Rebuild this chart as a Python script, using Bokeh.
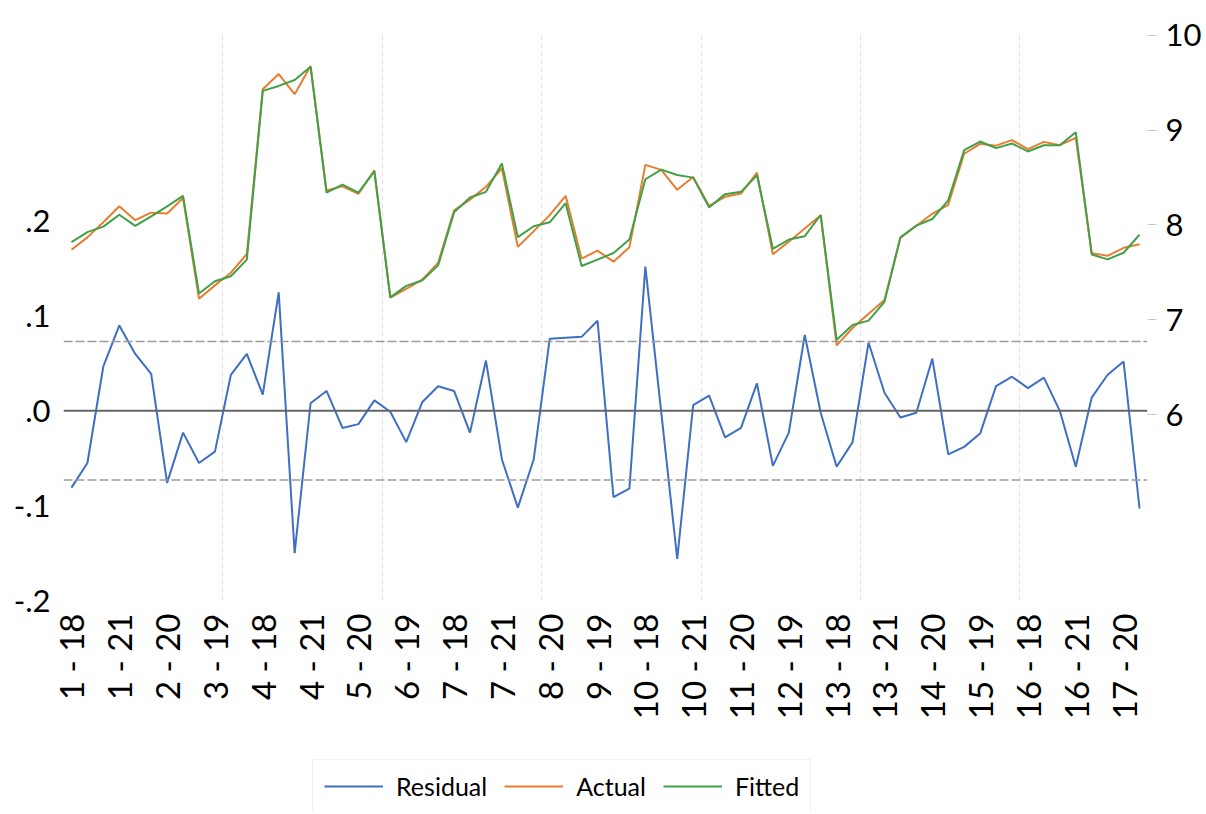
import numpy as np
from bokeh.plotting import figure
from bokeh.layouts import column
from bokeh.models import Range1d, LinearAxis, FixedTicker, Span, Legend, LegendItem
from bokeh.embed import file_html
from bokeh.resources import INLINE

# ---- data -----------------------------------------------------------------
cross_sections = list(range(1, 18))
years = [18, 19, 20, 21]
obs_labels = [f"{c} - {y}" for c in cross_sections for y in years]

residual = [-0.081, -0.055, 0.047, 0.090, 0.060, 0.039, -0.076, -0.023,
            -0.055, -0.043, 0.038, 0.060, 0.017, 0.125, -0.150, 0.008,
            0.021, -0.018, -0.014, 0.011, -0.001, -0.033, 0.009, 0.026,
            0.021, -0.023, 0.053, -0.051, -0.102, -0.051, 0.076, 0.077,
            0.078, 0.095, -0.091, -0.082, 0.152, -0.002, -0.156, 0.006,
            0.016, -0.028, -0.018, 0.029, -0.058, -0.023, 0.080, -0.002,
            -0.059, -0.033, 0.072, 0.019, -0.007, -0.002, 0.055, -0.046,
            -0.038, -0.024, 0.026, 0.036, 0.024, 0.035, 0.000, -0.059,
            0.014, 0.038, 0.052, -0.103]

actual = [7.738, 7.869, 8.029, 8.198, 8.050, 8.130, 8.120, 8.284,
          7.222, 7.363, 7.497, 7.694, 9.431, 9.591, 9.379, 9.676,
          8.363, 8.408, 8.328, 8.576, 7.235, 7.325, 7.423, 7.600,
          8.154, 8.267, 8.402, 8.598, 7.769, 7.935, 8.104, 8.307,
          7.645, 7.729, 7.613, 7.764, 8.634, 8.581, 8.371, 8.505,
          8.201, 8.297, 8.331, 8.553, 7.691, 7.823, 7.962, 8.103,
          6.730, 6.913, 7.063, 7.209, 7.864, 7.991, 8.118, 8.213,
          8.751, 8.856, 8.836, 8.895, 8.799, 8.876, 8.841, 8.918,
          7.703, 7.675, 7.759, 7.796]

fitted = [7.819, 7.924, 7.982, 8.108, 7.990, 8.091, 8.196, 8.307,
          7.277, 7.406, 7.459, 7.634, 9.414, 9.466, 9.529, 9.668,
          8.342, 8.426, 8.342, 8.565, 7.236, 7.358, 7.414, 7.574,
          8.133, 8.290, 8.349, 8.649, 7.871, 7.986, 8.028, 8.230,
          7.567, 7.634, 7.704, 7.846, 8.482, 8.583, 8.527, 8.499,
          8.185, 8.325, 8.349, 8.524, 7.749, 7.846, 7.882, 8.105,
          6.789, 6.946, 6.991, 7.190, 7.871, 7.993, 8.063, 8.259,
          8.789, 8.880, 8.810, 8.859, 8.775, 8.841, 8.841, 8.977,
          7.689, 7.637, 7.707, 7.899]

resid_sd = 0.073
left_ticks = [-0.2, -0.1, 0.0, 0.1, 0.2]
left_tick_labels = ["-.2", "-.1", ".0", ".1", ".2"]
right_ticks = [6, 7, 8, 9, 10]
series_names = ["Residual", "Actual", "Fitted"]
series_colors = ["#3F6FC0", "#E87D30", "#41A048"]
label_every = 3
grid_every = 10

# ---- main figure ------------------------------------------------------------
FONT = "Lato"
n = len(residual)
x = list(range(n))

p = figure(width=1204, height=722, output_backend="svg", toolbar_location=None,
           x_range=Range1d(-0.5, n - 0.5), y_range=Range1d(-0.2, 0.4),
           min_border_left=63, min_border_right=55, min_border_top=31,
           min_border_bottom=118)
p.outline_line_color = None
p.background_fill_color = "white"
p.border_fill_color = "white"
p.extra_y_ranges = {"lvl": Range1d(4.04, 10.04)}

# grid
p.ygrid.visible = False
p.xgrid.ticker = FixedTicker(ticks=[k - 0.5 for k in range(grid_every, n, grid_every)])
p.xgrid.grid_line_color = "#e2e2e2"
p.xgrid.grid_line_dash = "5 3"
p.xgrid.grid_line_width = 1

# x axis
xa = p.xaxis[0]
xa.ticker = FixedTicker(ticks=list(range(0, n, label_every)))
xa.major_label_overrides = {i: obs_labels[i] for i in range(0, n, label_every)}
xa.major_label_orientation = np.pi / 2
xa.axis_line_color = None
xa.major_tick_line_color = None
xa.minor_tick_line_color = None
xa.major_tick_out = 0
xa.major_tick_in = 0
xa.major_label_standoff = 13
xa.major_label_text_font = FONT
xa.major_label_text_font_size = "33px"
xa.major_label_text_color = "black"

# left axis
ya = p.yaxis[0]
ya.ticker = FixedTicker(ticks=left_ticks)
ya.major_label_overrides = {t: s for t, s in zip(left_ticks, left_tick_labels)}
ya.axis_line_color = None
ya.major_tick_line_color = None
ya.minor_tick_line_color = None
ya.major_tick_out = 0
ya.major_tick_in = 0
ya.major_label_standoff = 13
ya.major_label_text_font = FONT
ya.major_label_text_font_size = "31px"
ya.major_label_text_color = "black"

# right axis
ra = LinearAxis(y_range_name="lvl", ticker=FixedTicker(ticks=right_ticks))
ra.axis_line_color = None
ra.major_tick_line_color = "#c8c8c8"
ra.major_tick_out = 9
ra.major_tick_in = 0
ra.minor_tick_line_color = None
ra.major_label_standoff = 9
ra.major_label_text_font = FONT
ra.major_label_text_font_size = "31px"
ra.major_label_text_color = "black"
p.add_layout(ra, "right")

# reference lines
p.add_layout(Span(location=0, dimension="width", line_color="#666666", line_width=2))
for s in (resid_sd, -resid_sd):
    p.add_layout(Span(location=s, dimension="width", line_color="#9c9c9c",
                      line_width=1.5, line_dash="9 3"))

# series
p.line(x, residual, line_color=series_colors[0], line_width=2)
p.line(x, actual, y_range_name="lvl", line_color=series_colors[1], line_width=2)
p.line(x, fitted, y_range_name="lvl", line_color=series_colors[2], line_width=2)

# ---- legend strip -------------------------------------------------------------
lg = figure(width=1204, height=90, output_backend="svg", toolbar_location=None,
            x_axis_type=None, y_axis_type=None,
            x_range=Range1d(0, 1), y_range=Range1d(0, 1),
            min_border_left=0, min_border_right=0, min_border_top=0,
            min_border_bottom=0)
lg.outline_line_color = None
lg.xgrid.visible = False
lg.ygrid.visible = False
# key renderers: their data lies outside the strip's ranges, only the legend shows them
keys = [lg.line([-5, -4], [-5, -5], line_color=c, line_width=2) for c in series_colors]

legend = Legend(items=[LegendItem(label=nm, renderers=[r]) for nm, r in zip(series_names, keys)],
                orientation="horizontal", location=(249, -1), margin=0,
                glyph_width=59, glyph_height=24, label_height=24,
                label_standoff=13, spacing=17, padding=11,
                border_line_color="#e3e3e3", border_line_width=1,
                label_text_font=FONT, label_text_font_size="25px",
                label_text_color="black", background_fill_color="white")
lg.add_layout(legend)

open("out.html", "w").write(file_html(column(p, lg), INLINE))
